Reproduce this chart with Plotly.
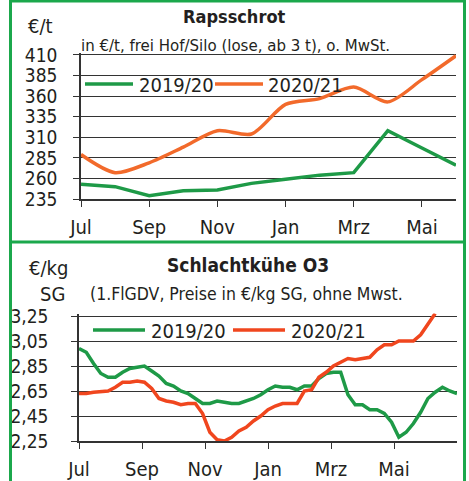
import plotly.graph_objects as go

# ---------------- data ----------------
months_top = ["Jul", "Aug", "Sep", "Okt", "Nov", "Dez", "Jan", "Feb", "Mrz", "Apr", "Mai", "Jun"]
raps_1920 = [253, 250, 239, 245, 246, 254, 259, 264, 267, 318, 297, 276]
raps_2021 = [289, 267, 279, 298, 318, 314, 350, 357, 371, 353, 380, 409]

kuehe_1920 = [2.99, 2.96, 2.87, 2.79, 2.76, 2.76, 2.80, 2.83, 2.84, 2.85, 2.81, 2.77,
              2.71, 2.69, 2.65, 2.63, 2.59, 2.55, 2.55, 2.57, 2.56, 2.55, 2.55, 2.57,
              2.59, 2.62, 2.66, 2.69, 2.68, 2.68, 2.66, 2.69, 2.69, 2.75, 2.79, 2.80,
              2.80, 2.62, 2.54, 2.54, 2.50, 2.50, 2.47, 2.40, 2.28, 2.32, 2.39, 2.48,
              2.59, 2.64, 2.68, 2.65, 2.63]
kuehe_2021 = [2.63, 2.63, 2.64, 2.645, 2.65, 2.68, 2.72, 2.72, 2.73, 2.72, 2.67, 2.59,
              2.57, 2.56, 2.54, 2.55, 2.55, 2.47, 2.32, 2.26, 2.25, 2.28, 2.33, 2.36,
              2.41, 2.45, 2.50, 2.53, 2.55, 2.55, 2.55, 2.65, 2.66, 2.76, 2.80, 2.85,
              2.88, 2.91, 2.90, 2.91, 2.92, 2.98, 3.02, 3.02, 3.05, 3.05, 3.05, 3.10,
              3.19, 3.27]

xtick_labels = ["Jul", "Sep", "Nov", "Jan", "Mrz", "Mai"]
top_yticks = [235, 260, 285, 310, 335, 360, 385, 410]
bot_yticks = [2.25, 2.45, 2.65, 2.85, 3.05, 3.25]
bot_ytick_labels = ["2,25", "2,45", "2,65", "2,85", "3,05", "3,25"]
series_names = ["2019/20", "2020/21"]

# ---------------- style ----------------
W, H = 469, 481
FONT = "DejaVu Sans Condensed, Liberation Sans Narrow, sans-serif"
TXT = "#231f20"
GREEN = "#1e9a47"
ORANGE = "#f26a2b"
RED = "#f0461e"
FRAME = "#1ba84c"
GRID = "#333333"

def px(x):
    return x / W

def py(y):
    return 1 - y / H

fig = go.Figure()

weeks_2019 = list(range(len(kuehe_1920)))
weeks_2020 = list(range(len(kuehe_2021)))
mon_idx = list(range(len(months_top)))

fig.add_trace(go.Scatter(x=mon_idx, y=raps_1920, mode="lines", name=series_names[0],
                         line=dict(color=GREEN, width=3.5), xaxis="x", yaxis="y",
                         showlegend=False))
fig.add_trace(go.Scatter(x=mon_idx, y=raps_2021, mode="lines", name=series_names[1],
                         line=dict(color=ORANGE, width=3.5, shape="spline", smoothing=0.8),
                         xaxis="x", yaxis="y", showlegend=False))
fig.add_trace(go.Scatter(x=weeks_2019, y=kuehe_1920, mode="lines", name=series_names[0],
                         line=dict(color=GREEN, width=3.5), xaxis="x2", yaxis="y2",
                         showlegend=False))
fig.add_trace(go.Scatter(x=weeks_2020, y=kuehe_2021, mode="lines", name=series_names[1],
                         line=dict(color=RED, width=3.5), xaxis="x2", yaxis="y2",
                         showlegend=False))

axis_common = dict(showline=True, linecolor=GRID, linewidth=1.5, ticks="outside",
                   tickcolor=GRID, ticklen=6, tickwidth=1.3, zeroline=False,
                   automargin=False)
xfont = dict(family=FONT, size=20, color=TXT)
yfont = dict(family=FONT, size=19, color=TXT)

fig.update_layout(
    template="none",
    width=W, height=H, autosize=False, margin=dict(l=0, r=0, t=0, b=0, pad=0),
    paper_bgcolor="white", plot_bgcolor="white",
    xaxis=dict(domain=[px(81), px(456)], range=[0, 11],
               tickvals=[0, 2, 4, 6, 8, 10], ticktext=xtick_labels, tickfont=xfont,
               showgrid=False, anchor="y", ticklabelstandoff=3, **axis_common),
    yaxis=dict(domain=[py(199), py(52.5)], range=[235, 413],
               tickvals=top_yticks, showgrid=True, gridcolor=GRID, gridwidth=1.3,
               tickfont=yfont, anchor="x", ticklabelstandoff=12, **axis_common),
    xaxis2=dict(domain=[px(79), px(457)], range=[0, 52],
                tickvals=[i * 52 / 12 for i in (0, 2, 4, 6, 8, 10)], ticktext=xtick_labels,
                tickfont=xfont,
                showgrid=False, anchor="y2", ticklabelstandoff=3, **axis_common),
    yaxis2=dict(domain=[py(441), py(313.5)], range=[2.25, 3.27],
                tickvals=bot_yticks, ticktext=bot_ytick_labels,
                showgrid=True, gridcolor=GRID, gridwidth=1.3, tickfont=yfont,
                anchor="x2", ticklabelstandoff=19, **axis_common),
)

def text(x, y, s, size, bold=False, xanchor="center"):
    fig.add_annotation(x=px(x), y=py(y), xref="paper", yref="paper", text=s,
                       showarrow=False, xanchor=xanchor, yanchor="middle",
                       font=dict(family=FONT, size=size, color=TXT,
                                 weight="bold" if bold else "normal"))

# top panel texts
text(40, 26, "€/t", 20)
text(234, 17, "Rapsschrot", 18, bold=True)
text(235, 45, "in €/t, frei Hof/Silo (lose, ab 3 t), o. MwSt.", 16.7)
# bottom panel texts
text(48, 268, "€/kg", 20)
text(52, 294, "SG", 20)
text(248, 265, "Schlachtkühe O3", 19, bold=True)
text(247, 294, "(1.FlGDV, Preise in €/kg SG, ohne Mwst.", 17.5)

# legends
def legend_item(x0, x1, y, color, label, tx):
    fig.add_shape(type="line", xref="paper", yref="paper", x0=px(x0), x1=px(x1),
                  y0=py(y), y1=py(y), line=dict(color=color, width=3.5))
    text(tx, y + 1, label, 20, xanchor="left")

legend_item(85, 133, 84, GREEN, series_names[0], 137)
legend_item(215, 263, 84, ORANGE, series_names[1], 266)
legend_item(93, 145, 330, GREEN, series_names[0], 149)
legend_item(233, 285, 330, RED, series_names[1], 289)

# frame
for (x0, y0, x1, y1) in [(10.5, 0, 10.5, H), (464.5, 0, 464.5, H), (10.5, 1, 464.5, 1),
                         (10.5, 242, 464.5, 242)]:
    fig.add_shape(type="line", xref="paper", yref="paper", x0=px(x0), y0=py(y0),
                  x1=px(x1), y1=py(y1), line=dict(color=FRAME, width=3))

fig.write_html("out.html",
               config={"responsive": False, "displayModeBar": False},
               post_script="document.body.style.margin='0';document.body.style.padding='0';"
                           "document.body.style.overflow='hidden';")
